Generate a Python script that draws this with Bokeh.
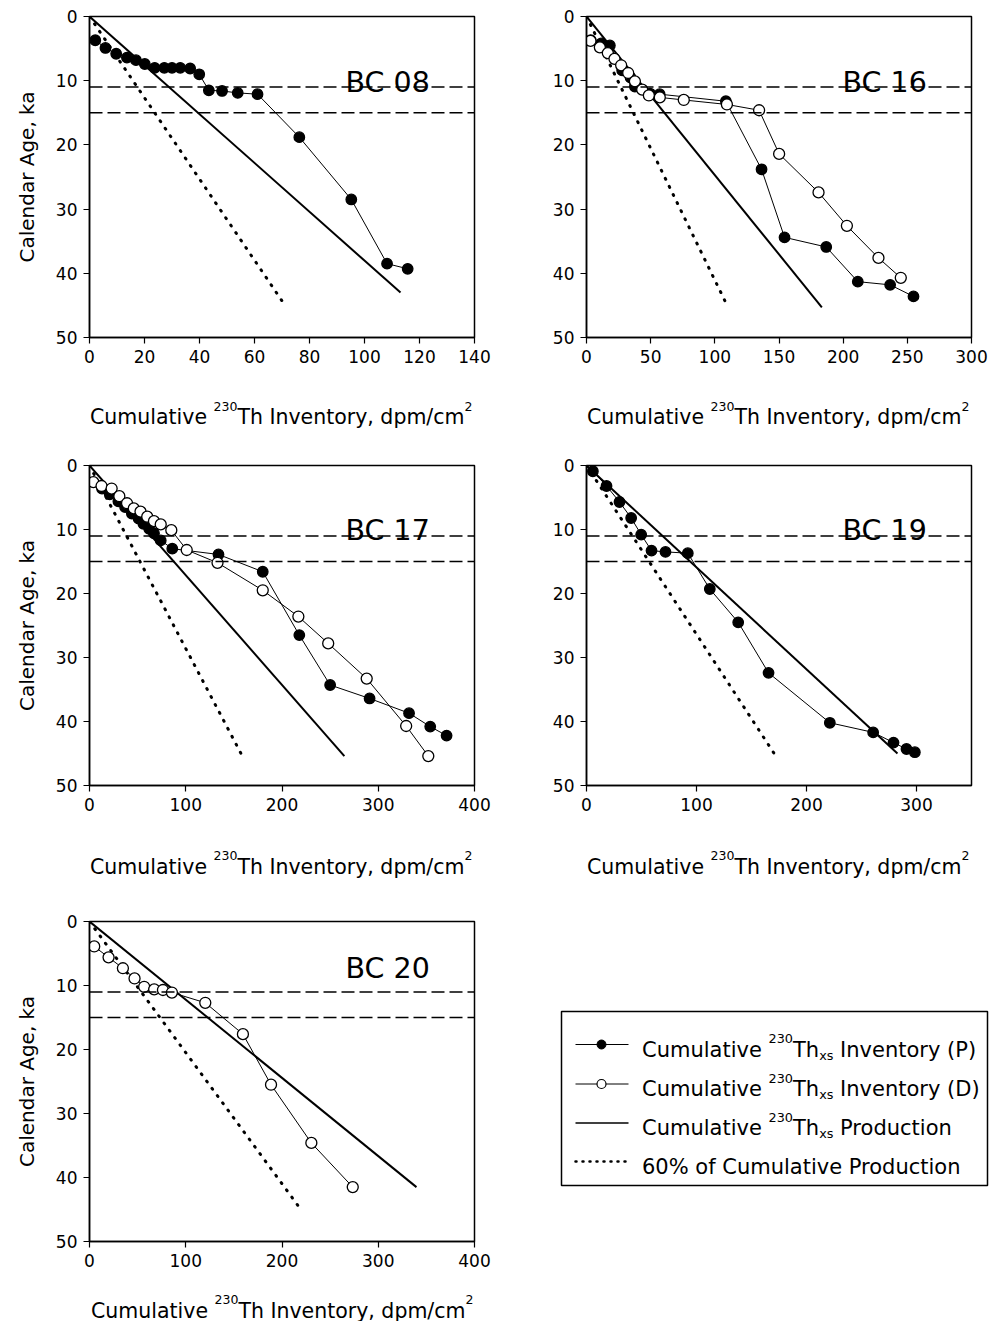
from bokeh.plotting import figure
from bokeh.models import Range1d, FixedTicker, Label, Span
from bokeh.layouts import column, row
from bokeh.embed import file_html
from bokeh.resources import INLINE

FONT = "DejaVu Sans"

# ---------------- data ----------------
age_ticks = [0, 10, 20, 30, 40, 50]
stadial_ages = [11, 15]

bc08_p_inv = [2.1, 5.8, 9.7, 13.6, 16.9, 20.1, 23.7, 27.2, 30.0, 33.0, 36.6, 39.9, 43.4, 48.2, 53.9, 61.1, 76.3, 95.2, 108.2, 115.7]
bc08_p_age = [3.7, 4.9, 5.8, 6.4, 6.8, 7.4, 8.0, 8.0, 8.0, 8.0, 8.1, 9.0, 11.5, 11.6, 11.9, 12.1, 18.8, 28.5, 38.5, 39.3]
bc08_prod_inv = [0, 113.1]
bc08_prod_age = [0, 43.0]
bc08_sixty_inv = [0, 70.8]
bc08_sixty_age = [0, 44.8]

bc16_p_inv = [3.3, 11.5, 18.2, 27.8, 34.3, 37.7, 49.5, 57.0, 108.6, 136.4, 154.3, 186.8, 211.4, 236.6, 254.8]
bc16_p_age = [3.7, 4.2, 4.5, 8.4, 9.5, 10.9, 12.0, 12.1, 13.2, 23.8, 34.4, 35.9, 41.3, 41.8, 43.6]
bc16_d_inv = [3.1, 10.4, 16.6, 21.8, 27.0, 32.5, 37.7, 43.4, 48.6, 57.1, 75.8, 109.4, 134.5, 150.1, 180.8, 202.9, 227.5, 244.9]
bc16_d_age = [3.8, 4.8, 5.7, 6.6, 7.6, 8.8, 10.1, 11.4, 12.3, 12.6, 13.0, 13.7, 14.6, 21.4, 27.4, 32.6, 37.6, 40.7]
bc16_prod_inv = [0, 183.4]
bc16_prod_age = [0, 45.3]
bc16_sixty_inv = [0, 109.1]
bc16_sixty_age = [0, 44.8]

bc17_p_inv = [13, 21, 30, 37, 44, 51, 56, 62, 67, 74, 86, 134, 180, 218, 250, 291, 332, 354, 371]
bc17_p_age = [3.6, 4.5, 5.6, 6.5, 7.5, 8.3, 9.1, 9.9, 10.6, 11.7, 13.0, 13.9, 16.6, 26.5, 34.3, 36.4, 38.7, 40.8, 42.2]
bc17_d_inv = [4, 12.5, 23, 31, 39, 46, 53, 60, 67, 74, 85, 101, 133, 180, 217, 248, 288, 329, 352]
bc17_d_age = [2.6, 3.2, 3.6, 4.8, 5.9, 6.7, 7.2, 8.0, 8.7, 9.2, 10.1, 13.2, 15.2, 19.5, 23.6, 27.8, 33.3, 40.7, 45.4]
bc17_prod_inv = [0, 264.8]
bc17_prod_age = [0, 45.4]
bc17_sixty_inv = [0, 157.4]
bc17_sixty_age = [0, 45.0]

bc19_p_inv = [5.8, 18.2, 30.0, 40.6, 49.7, 59.1, 71.8, 92.1, 112.1, 137.9, 165.5, 221.2, 260.6, 279.1, 290.9, 298.5]
bc19_p_age = [0.9, 3.2, 5.7, 8.2, 10.8, 13.3, 13.5, 13.7, 19.3, 24.5, 32.4, 40.2, 41.7, 43.3, 44.3, 44.8]
bc19_prod_inv = [0, 282.7]
bc19_prod_age = [0, 45.0]
bc19_sixty_inv = [0, 170.6]
bc19_sixty_age = [0, 45.0]

bc20_d_inv = [4.9, 19.8, 34.7, 46.8, 56.8, 67.2, 76.3, 85.6, 120.3, 159.4, 188.6, 230.5, 273.5]
bc20_d_age = [3.9, 5.6, 7.3, 8.9, 10.2, 10.6, 10.7, 11.1, 12.7, 17.6, 25.5, 34.6, 41.5]
bc20_prod_inv = [0, 339.7]
bc20_prod_age = [0, 41.5]
bc20_sixty_inv = [0, 220.1]
bc20_sixty_age = [0, 45.1]

x_ticks_08 = [0, 20, 40, 60, 80, 100, 120, 140]
x_ticks_16 = [0, 50, 100, 150, 200, 250, 300]
x_ticks_17 = [0, 100, 200, 300, 400]
x_ticks_19 = [0, 100, 200, 300]
x_ticks_20 = [0, 100, 200, 300, 400]

# ---------------- text helpers ----------------
ADV = {" ": .318, "A": .684, "B": .686, "C": .698, "D": .770, "I": .295, "P": .603, "T": .611,
       "a": .613, "c": .550, "d": .635, "e": .615, "f": .352, "g": .635, "h": .634, "i": .278,
       "k": .579, "l": .278, "m": .974, "n": .634, "o": .612, "p": .635, "r": .411, "s": .521,
       "t": .392, "u": .634, "v": .592, "x": .592, "y": .592, ",": .318, "/": .337, ".": .318,
       "(": .390, ")": .390, "%": .950}
for dgt in "0123456789":
    ADV[dgt] = .636


def tw(s, size):
    return sum(ADV.get(c, 0.6) for c in s) * size


def rich(p, x, y, parts, dx0, dy0, size):
    """Text with super/subscript parts, laid out left to right."""
    dx = dx0
    for t, kind in parts:
        if kind == "n":
            fs, dy = size, 0.0
        elif kind == "sup":
            fs, dy = size * 0.61, size * 0.52
        else:
            fs, dy = size * 0.61, -size * 0.26
        shown = t.strip(" ")
        lead = len(t) - len(t.lstrip(" "))
        p.add_layout(Label(x=x, y=y, x_offset=dx + tw(" " * lead, fs), y_offset=dy0 + dy,
                           text=shown, text_font=FONT, text_font_size=f"{fs:.1f}px",
                           text_baseline="alphabetic", text_align="left",
                           text_color="black"))
        dx += tw(t, fs)


XLABEL = [("Cumulative ", "n"), ("230", "sup"), ("Th Inventory, dpm/cm", "n"), ("2", "sup")]


def canvas(width, height, xspan=None):
    """Plain drawing area with pixel-like units (y pointing down)."""
    c = figure(width=width, height=height, x_range=Range1d(0, xspan or width),
               y_range=Range1d(height, 0),
               output_backend="svg", toolbar_location=None,
               x_axis_location=None, y_axis_location=None,
               min_border_left=0, min_border_right=0, min_border_top=0, min_border_bottom=0)
    c.outline_line_color = None
    c.xgrid.visible = False
    c.ygrid.visible = False
    c.background_fill_color = "white"
    c.border_fill_color = "white"
    return c


def xlabel_strip(height, baseline, x0=0.5):
    # this strip sits under a panel; the column aligns its frame with the panel frame (385 px)
    s = canvas(495, height, xspan=385)
    rich(s, x0, baseline, XLABEL, 0, 0, 20.5)
    return s


def panel(name, xmax, xticks, width, height, left, top, fh, series, prod, sixty,
          ylabel, name_dy):
    p = figure(width=width, height=height, x_range=Range1d(0, xmax), y_range=Range1d(50, 0),
               output_backend="svg", toolbar_location=None,
               min_border_left=left, min_border_right=width - left - 385,
               min_border_top=top, min_border_bottom=height - top - fh)
    p.background_fill_color = "white"
    p.border_fill_color = "white"
    p.xgrid.visible = False
    p.ygrid.visible = False
    p.outline_line_color = "black"
    p.outline_line_width = 1.5
    p.outline_line_alpha = 1.0
    for ax in (p.xaxis[0], p.yaxis[0]):
        ax.axis_line_width = 1.5
        ax.axis_line_color = "black"
        ax.major_tick_in = 0
        ax.major_tick_out = 6
        ax.major_tick_line_width = 1.2
        ax.major_tick_line_color = "black"
        ax.minor_tick_line_color = None
        ax.major_label_text_font = FONT
        ax.major_label_text_font_size = "17px"
        ax.major_label_text_color = "black"
    p.xaxis.ticker = FixedTicker(ticks=xticks)
    p.yaxis.ticker = FixedTicker(ticks=age_ticks)
    p.xaxis.major_label_standoff = 6
    p.yaxis.major_label_standoff = 6
    if ylabel:
        p.yaxis.axis_label = "Calendar Age, ka"
        p.yaxis.axis_label_text_font = FONT
        p.yaxis.axis_label_text_font_size = "20px"
        p.yaxis.axis_label_text_font_style = "normal"
        p.yaxis.axis_label_text_color = "black"
        p.yaxis.axis_label_standoff = 14

    for a in stadial_ages:
        p.add_layout(Span(location=a, dimension="width", line_color="black",
                          line_width=1.5, line_dash="13 5"))
    p.line(prod[0], prod[1], line_color="black", line_width=2)
    p.line(sixty[0], sixty[1], line_color="black", line_width=3, line_dash="1 8", line_cap="round")
    for inv, age, filled in series:
        p.line(inv, age, line_color="black", line_width=1)
        p.scatter(inv, age, size=10.5 if filled else 11, marker="circle",
                  fill_color="black" if filled else "white", line_color="black",
                  line_width=1.3)

    p.add_layout(Label(x=0, y=0, x_offset=256, y_offset=-name_dy, text=name,
                       text_font=FONT, text_font_size="28.5px", text_baseline="alphabetic",
                       text_color="black"))
    return p


# row 1 : y 0..440
p1 = panel("BC 08", 140, x_ticks_08, 495, 380, 89, 16, 321,
           [(bc08_p_inv, bc08_p_age, True)],
           (bc08_prod_inv, bc08_prod_age), (bc08_sixty_inv, bc08_sixty_age), True, 65.7)
p2 = panel("BC 16", 300, x_ticks_16, 495, 380, 91, 16, 321,
           [(bc16_p_inv, bc16_p_age, True), (bc16_d_inv, bc16_d_age, False)],
           (bc16_prod_inv, bc16_prod_age), (bc16_sixty_inv, bc16_sixty_age), False, 65.7)
s1 = xlabel_strip(60, 36.7)
s2 = xlabel_strip(60, 36.7)

# row 2 : y 440..895
p3 = panel("BC 17", 400, x_ticks_17, 495, 388, 89, 25, 320,
           [(bc17_p_inv, bc17_p_age, True), (bc17_d_inv, bc17_d_age, False)],
           (bc17_prod_inv, bc17_prod_age), (bc17_sixty_inv, bc17_sixty_age), True, 65)
p4 = panel("BC 19", 350, x_ticks_19, 495, 388, 91, 25, 320,
           [(bc19_p_inv, bc19_p_age, True)],
           (bc19_prod_inv, bc19_prod_age), (bc19_sixty_inv, bc19_sixty_age), False, 65)
s3 = xlabel_strip(67, 38)
s4 = xlabel_strip(67, 38)

# row 3 : y 895..1321
p5 = panel("BC 20", 400, x_ticks_20, 495, 386, 89, 26, 320,
           [(bc20_d_inv, bc20_d_age, False)],
           (bc20_prod_inv, bc20_prod_age), (bc20_sixty_inv, bc20_sixty_age), True, 47.3)
s5 = xlabel_strip(40, 29, x0=1.5)

# ---------------- legend panel ----------------
lg = canvas(495, 426)
lg.quad(left=[66], right=[492], top=[116], bottom=[290], fill_color=None,
        line_color="black", line_width=1.5)

legend_rows = [149, 188.5, 227.5, 266]
sx0, sx1, smid = 80, 133, 106
lg.line([sx0, sx1], [legend_rows[0]] * 2, line_color="black", line_width=1)
lg.scatter([smid], [legend_rows[0]], size=9, fill_color="black", line_color="black")
lg.line([sx0, sx1], [legend_rows[1]] * 2, line_color="black", line_width=1)
lg.scatter([smid], [legend_rows[1]], size=9, fill_color="white", line_color="black", line_width=1.2)
lg.line([sx0, sx1], [legend_rows[2]] * 2, line_color="black", line_width=1.5)
lg.line([sx0, sx1], [legend_rows[3]] * 2, line_color="black", line_width=2.5,
        line_dash="1 6", line_cap="round")

legend_texts = [
    [("Cumulative ", "n"), ("230", "sup"), ("Th", "n"), ("xs", "sub"), (" Inventory (P)", "n")],
    [("Cumulative ", "n"), ("230", "sup"), ("Th", "n"), ("xs", "sub"), (" Inventory (D)", "n")],
    [("Cumulative ", "n"), ("230", "sup"), ("Th", "n"), ("xs", "sub"), (" Production", "n")],
    [("60% of Cumulative Production", "n")],
]
for ry, parts in zip(legend_rows, legend_texts):
    rich(lg, 146.5, ry + 5.3, parts, 0, 0, 21)

layout = column(
    row(column(p1, s1), column(p2, s2)),
    row(column(p3, s3), column(p4, s4)),
    row(column(p5, s5), lg),
)
open("out.html", "w").write(file_html(layout, INLINE))
